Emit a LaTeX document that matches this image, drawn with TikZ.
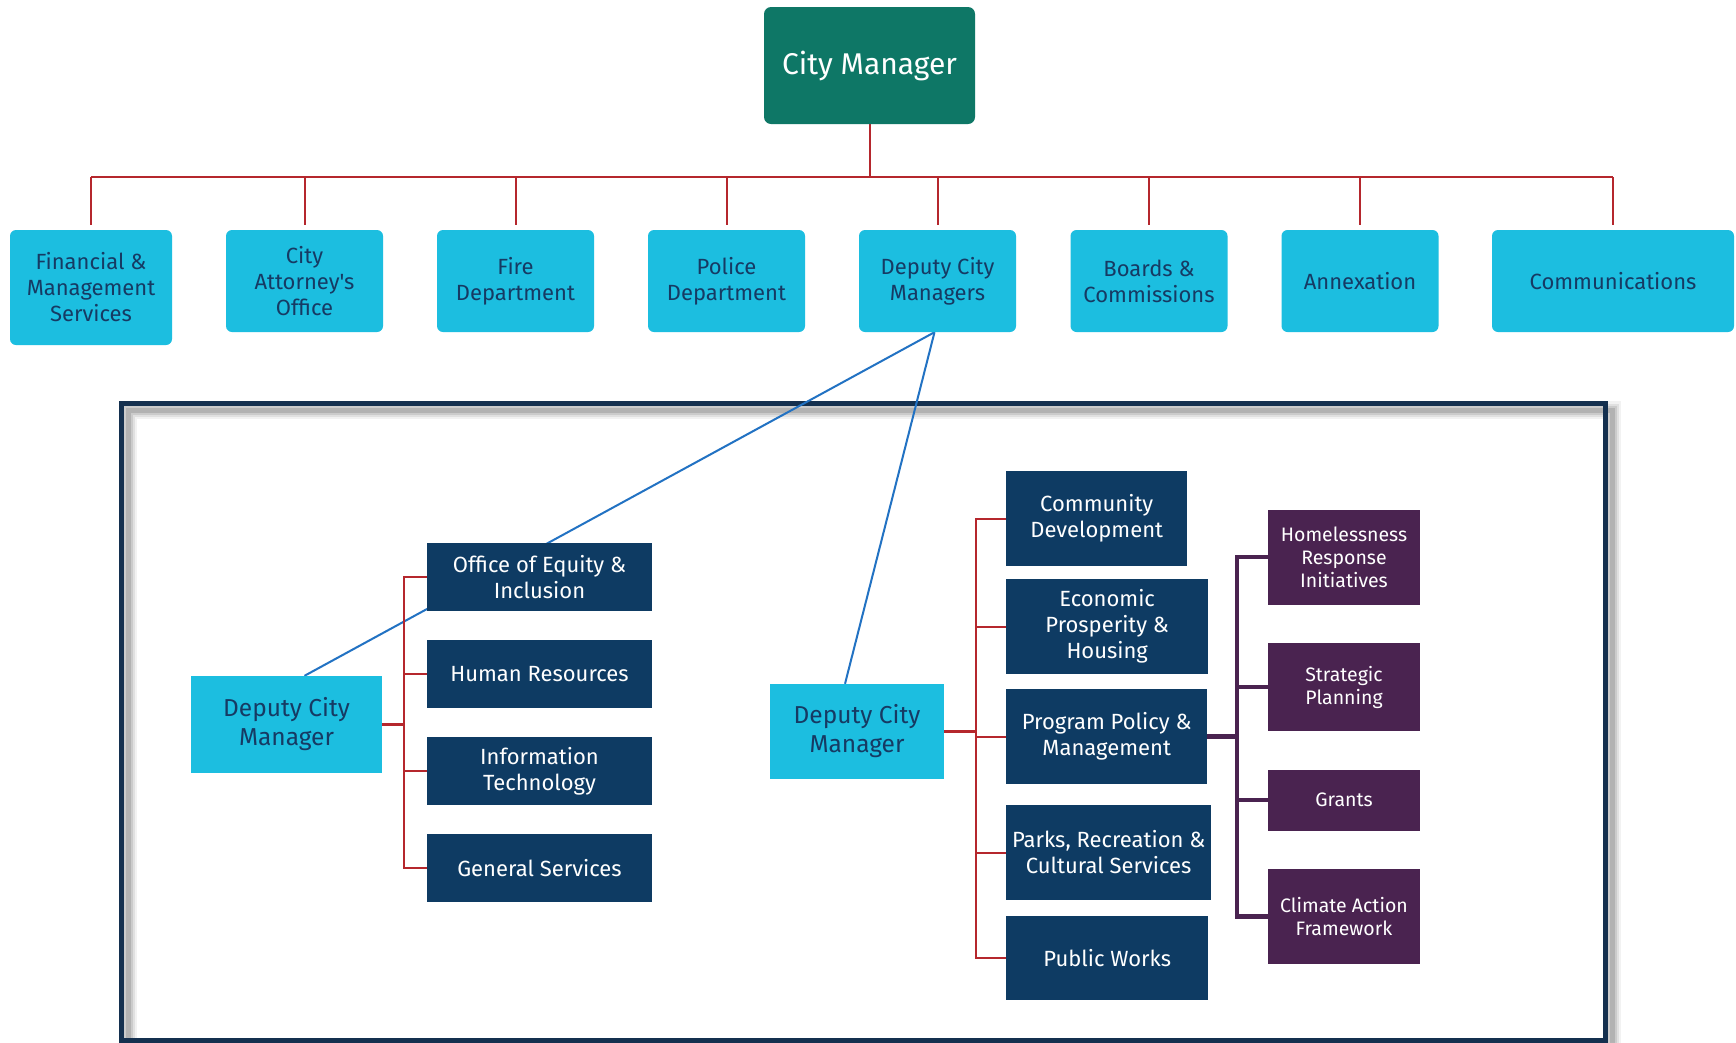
\documentclass[tikz,border=0pt]{standalone}
\usepackage{fontspec}
\setmainfont{Fira Sans}[Ligatures=TeXOff]
\definecolor{cmteal}{HTML}{0E7766}
\definecolor{cyanbox}{HTML}{1CBEE0}
\definecolor{navytxt}{HTML}{163A63}
\definecolor{navybox}{HTML}{0E3B63}
\definecolor{purpbox}{HTML}{4A2350}
\definecolor{redln}{HTML}{B5272D}
\definecolor{blueln}{HTML}{2272C3}
\definecolor{framec}{HTML}{14304F}
\pgfdeclarelayer{bg}
\pgfsetlayers{bg,main}
\begin{document}
\begin{tikzpicture}[x=1pt,y=-1pt,
  cmbox/.style={fill=cmteal, rounded corners=7pt, text=white, align=center, inner sep=0pt,
    minimum width=211pt, minimum height=117pt, font=\fontsize{30}{34}\selectfont},
  topbox/.style={fill=cyanbox, rounded corners=6pt, text=navytxt, align=center, inner sep=0pt,
    minimum width=157pt, minimum height=102pt, font=\fontsize{22}{26}\selectfont},
  dcmbox/.style={fill=cyanbox, text=navytxt, align=center, inner sep=0pt,
    font=\fontsize{24.5}{29}\selectfont},
  navbox/.style={fill=navybox, text=white, align=center, inner sep=0pt,
    font=\fontsize{22}{26}\selectfont},
  purbox/.style={fill=purpbox, text=white, align=center, inner sep=0pt,
    minimum width=152pt, font=\fontsize{19.5}{23}\selectfont},
  redline/.style={draw=redln, line width=2pt},
  purline/.style={draw=purpbox, line width=4.5pt},
  blueline/.style={draw=blueln, line width=2pt}
]
\useasboundingbox (0,0) rectangle (1736,1042);

% background and frame with shadow
\begin{pgfonlayer}{bg}
\fill[white] (0,0) rectangle (1736,1042);
\foreach \w/\o in {18/0.05,13/0.07,9/0.09,5/0.12}
  \draw[black, opacity=\o, line width=\w pt] (128,410) rectangle (1612,1050);
\draw[framec, line width=5pt] (121,403) rectangle (1605,1040);
\end{pgfonlayer}

% top level
\node[cmbox] (cm) at (869.5,65.5) {City Manager};
\node[topbox, minimum width=162pt, minimum height=115pt] (fin) at (91,287.5) {Financial \&\\Management\\Services};
\node[topbox] (att) at (304.5,281) {City\\Attorney's\\Office};
\node[topbox] (fire) at (515.5,281) {Fire\\Department};
\node[topbox] (pol) at (726.5,281) {Police\\Department};
\node[topbox] (dcms) at (937.5,281) {Deputy City\\Managers};
\node[topbox] (brd) at (1149,281) {Boards \&\\Commissions};
\node[topbox] (anx) at (1360,281) {Annexation};
\node[topbox, minimum width=242pt] (com) at (1613,281) {Communications};

% left deputy
\node[dcmbox, minimum width=191pt, minimum height=97pt] (dcml) at (286.5,724.5) {Deputy City\\Manager};
\node[navbox, minimum width=225pt, minimum height=68pt] (oei) at (539.5,577) {Office of Equity \&\\Inclusion};
\node[navbox, minimum width=225pt, minimum height=68pt] (hr) at (539.5,674) {Human Resources};
\node[navbox, minimum width=225pt, minimum height=68pt] (it) at (539.5,771) {Information\\Technology};
\node[navbox, minimum width=225pt, minimum height=68pt] (gs) at (539.5,868) {General Services};

% right deputy
\node[dcmbox, minimum width=174pt, minimum height=95pt] (dcmr) at (857,731.5) {Deputy City\\Manager};
\node[navbox, anchor=west, minimum width=181pt, minimum height=95pt] (cd) at (1006,518.5) {Community\\Development};
\node[navbox, anchor=west, minimum width=202pt, minimum height=95pt] (ep) at (1006,626.5) {Economic\\Prosperity \&\\Housing};
\node[navbox, anchor=west, minimum width=201pt, minimum height=95pt] (pp) at (1006,736.5) {Program Policy \&\\Management};
\node[navbox, anchor=west, minimum width=205pt, minimum height=95pt] (pr) at (1006,852.5) {Parks, Recreation \&\\Cultural Services};
\node[navbox, anchor=west, minimum width=202pt, minimum height=84pt] (pw) at (1006,958) {Public Works};

% purple
\node[purbox, minimum height=95pt] (hom) at (1344,557) {Homelessness\\Response\\Initiatives};
\node[purbox, minimum height=88pt] (str) at (1344,687) {Strategic\\Planning};
\node[purbox, minimum height=61pt] (gr) at (1344,800) {Grants};
\node[purbox, minimum height=95pt] (cl) at (1344,916.5) {Climate Action\\Framework};

\coordinate (bus) at (0,177);
\coordinate (lbx) at (404,0);
\coordinate (rbx) at (976,0);
\coordinate (pbx) at (1237,0);

\begin{pgfonlayer}{bg}
% top bus
\draw[redline] (cm.south) -- (cm.south |- bus);
\draw[redline, line width=2.4pt] (fin.north |- bus) -- (com.north |- bus);
\foreach \n in {fin,att,fire,pol,dcms,brd,anx,com}
  \draw[redline] (\n.north |- bus) -- ([yshift=5pt]\n.north);
% blue links
\draw[blueline] ([xshift=-3pt]dcms.south) -- ([xshift=18pt]dcml.north);
\draw[blueline] ([xshift=-3pt]dcms.south) -- ([xshift=-12pt]dcmr.north);
% left bracket
\draw[redline] (oei.west) -- (oei.west -| lbx) -- (gs.west -| lbx) -- (gs.west);
\draw[redline] (hr.west) -- (hr.west -| lbx);
\draw[redline] (it.west) -- (it.west -| lbx);
\draw[redline, line width=2.8pt] (dcml.east) -- (dcml.east -| lbx);
% right bracket
\draw[redline] (cd.west) -- (cd.west -| rbx) -- (pw.west -| rbx) -- (pw.west);
\draw[redline] (ep.west) -- (ep.west -| rbx);
\draw[redline] (pp.west) -- (pp.west -| rbx);
\draw[redline] (pr.west) -- (pr.west -| rbx);
\draw[redline, line width=3.2pt] (dcmr.east) -- (dcmr.east -| rbx);
% purple bracket
\draw[purline] (hom.west) -- (hom.west -| pbx) -- (cl.west -| pbx) -- (cl.west);
\draw[purline] (str.west) -- (str.west -| pbx);
\draw[purline] (gr.west) -- (gr.west -| pbx);
\draw[purline] (pp.east) -- (pp.east -| pbx);
\end{pgfonlayer}
\end{tikzpicture}
\end{document}
